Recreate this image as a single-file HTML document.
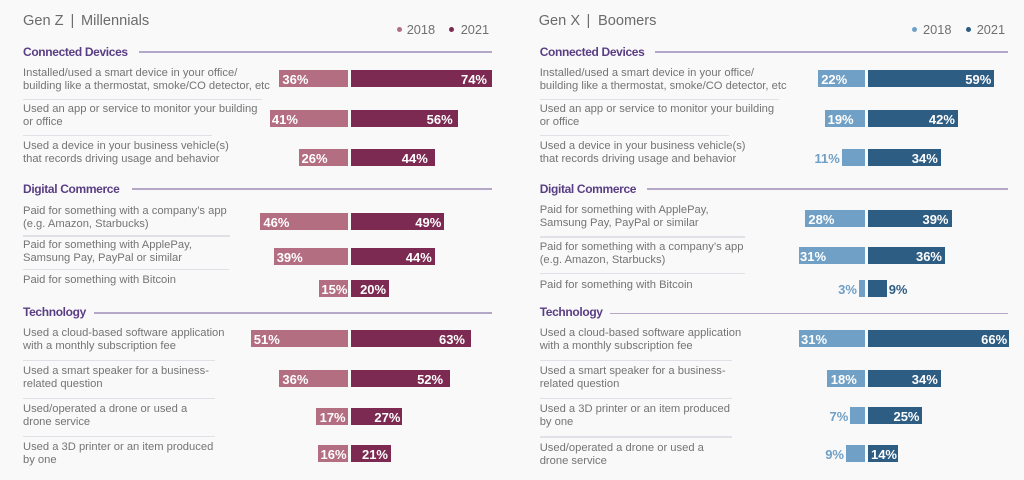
<!DOCTYPE html>
<html><head><meta charset="utf-8">
<style>
html,body{margin:0;padding:0}
body{width:1024px;height:480px;background:#f9f9fa;position:relative;overflow:hidden;font-family:"Liberation Sans",sans-serif}
.h{position:absolute;font:14.6px/15px "Liberation Sans",sans-serif;color:#6b6b6b;white-space:nowrap}
.lg{position:absolute;font:12.8px/13px "Liberation Sans",sans-serif;color:#707070;white-space:nowrap}
.dot{position:absolute;width:5px;height:5px;border-radius:50%}
.cat{position:absolute;font:bold 12px/12px "Liberation Sans",sans-serif;color:#5a3e84;letter-spacing:-0.35px;white-space:nowrap}
.cl{position:absolute;height:1.5px;background:#b4a7c8}
.sep{position:absolute;height:1.5px;background:#e0e0e7}
.t{position:absolute;font:11.2px/13px "Liberation Sans",sans-serif;color:#747474;white-space:nowrap}
.bar{position:absolute;height:17px;font:bold 13px/19px "Liberation Sans",sans-serif;color:#fff;white-space:nowrap;box-sizing:border-box}
.p18{background:#b46e82;padding-left:3px;text-align:left}
.p21{background:#7c2a52;padding-right:5px;text-align:right}
.b18{background:#70a0c6;padding-left:3px;text-align:left}
.b21{background:#2e5d83;padding-right:3px;text-align:right}
.ol{position:absolute;width:38px;height:17px;font:bold 13px/19px "Liberation Sans",sans-serif;color:#70a0c6;text-align:right;white-space:nowrap}
</style></head><body>

<!-- LEFT PANEL -->
<div class="h" style="left:23px;top:14px">Gen Z</div>
<div class="h" style="left:70.5px;top:14px">|</div>
<div class="h" style="left:81px;top:14px">Millennials</div>

<div class="dot" style="left:396.5px;top:26.5px;background:#b46e82"></div>
<div class="lg" style="left:406.7px;top:22.7px">2018</div>
<div class="dot" style="left:448.5px;top:26.5px;background:#7c2a52"></div>
<div class="lg" style="left:460.7px;top:22.7px">2021</div>

<div class="cat" style="left:23px;top:45.8px">Connected Devices</div>
<div class="cl" style="left:139px;width:353px;top:51px"></div>
<div class="cat" style="left:23px;top:183.2px">Digital Commerce</div>
<div class="cl" style="left:131.7px;width:360.3px;top:188.3px"></div>
<div class="cat" style="left:23px;top:306.2px">Technology</div>
<div class="cl" style="left:94.3px;width:397.7px;top:312px"></div>

<div class="t" style="left:23px;top:66.5px">Installed/used a smart device in your office/<br>building like a thermostat, smoke/CO detector, etc</div>
<div class="sep" style="left:23px;width:239px;top:98.5px"></div>
<div class="t" style="left:23px;top:102.5px">Used an app or service to monitor your building<br>or office</div>
<div class="sep" style="left:23px;width:189px;top:134.5px"></div>
<div class="t" style="left:23px;top:140px">Used a device in your business vehicle(s)<br>that records driving usage and behavior</div>

<div class="t" style="left:23px;top:204.8px">Paid for something with a company’s app<br>(e.g. Amazon, Starbucks)</div>
<div class="sep" style="left:23px;width:207px;top:235px"></div>
<div class="t" style="left:23px;top:238.5px">Paid for something with ApplePay,<br>Samsung Pay, PayPal or similar</div>
<div class="sep" style="left:23px;width:206px;top:268.5px"></div>
<div class="t" style="left:23px;top:273.5px">Paid for something with Bitcoin</div>

<div class="t" style="left:23px;top:326.5px">Used a cloud-based software application<br>with a monthly subscription fee</div>
<div class="sep" style="left:23px;width:192px;top:359.5px"></div>
<div class="t" style="left:23px;top:364.5px">Used a smart speaker for a business-<br>related question</div>
<div class="sep" style="left:23px;width:192px;top:397.5px"></div>
<div class="t" style="left:23px;top:402.5px">Used/operated a drone or used a<br>drone service</div>
<div class="sep" style="left:23px;width:192px;top:435.5px"></div>
<div class="t" style="left:23px;top:440.5px">Used a 3D printer or an item produced<br>by one</div>

<!-- left bars -->
<div class="bar p18" style="left:279.4px;width:68.6px;top:69.5px">36%</div>
<div class="bar p21" style="left:351px;width:141px;top:69.5px">74%</div>
<div class="bar p18" style="left:269.9px;width:78.1px;top:110px;padding-left:2px">41%</div>
<div class="bar p21" style="left:351px;width:106.7px;top:110px">56%</div>
<div class="bar p18" style="left:298.5px;width:49.5px;top:148.5px">26%</div>
<div class="bar p21" style="left:351px;width:83.8px;top:148.5px;padding-right:7px">44%</div>

<div class="bar p18" style="left:260.4px;width:87.6px;top:212.5px">46%</div>
<div class="bar p21" style="left:351px;width:93.3px;top:212.5px;padding-right:3px">49%</div>
<div class="bar p18" style="left:273.7px;width:74.3px;top:247.5px">39%</div>
<div class="bar p21" style="left:351px;width:83.8px;top:247.5px;padding-right:3px">44%</div>
<div class="bar p18" style="left:319.4px;width:28.6px;top:280px;padding-left:2px">15%</div>
<div class="bar p21" style="left:351px;width:38.1px;top:280px;padding-right:3px">20%</div>

<div class="bar p18" style="left:250.8px;width:97.2px;top:330px">51%</div>
<div class="bar p21" style="left:351px;width:120px;top:330px;padding-right:6px">63%</div>
<div class="bar p18" style="left:279.4px;width:68.6px;top:370px">36%</div>
<div class="bar p21" style="left:351px;width:99.1px;top:370px;padding-right:7px">52%</div>
<div class="bar p18" style="left:315.6px;width:32.4px;top:407.5px;padding-left:4px">17%</div>
<div class="bar p21" style="left:351px;width:51.4px;top:407.5px;padding-right:2px">27%</div>
<div class="bar p18" style="left:317.5px;width:30.5px;top:445px;padding-left:3px">16%</div>
<div class="bar p21" style="left:351px;width:40px;top:445px;padding-right:3px">21%</div>

<!-- RIGHT PANEL -->
<div class="h" style="left:538.7px;top:14px">Gen X</div>
<div class="h" style="left:586.5px;top:14px">|</div>
<div class="h" style="left:598px;top:14px">Boomers</div>

<div class="dot" style="left:911.8px;top:26.5px;background:#70a0c6"></div>
<div class="lg" style="left:923px;top:22.7px">2018</div>
<div class="dot" style="left:965.8px;top:26.5px;background:#2e5d83"></div>
<div class="lg" style="left:976.7px;top:22.7px">2021</div>

<div class="cat" style="left:539.7px;top:45.8px">Connected Devices</div>
<div class="cl" style="left:655.3px;width:353px;top:51px"></div>
<div class="cat" style="left:539.7px;top:183.2px">Digital Commerce</div>
<div class="cl" style="left:647px;width:361.3px;top:188.3px"></div>
<div class="cat" style="left:539.7px;top:306.2px">Technology</div>
<div class="cl" style="left:609.7px;width:398.6px;top:312.5px"></div>

<div class="t" style="left:539.7px;top:66.5px">Installed/used a smart device in your office/<br>building like a thermostat, smoke/CO detector, etc</div>
<div class="sep" style="left:539.7px;width:239px;top:98.8px"></div>
<div class="t" style="left:539.7px;top:102.5px">Used an app or service to monitor your building<br>or office</div>
<div class="sep" style="left:539.7px;width:189.3px;top:134.5px"></div>
<div class="t" style="left:539.7px;top:140.2px">Used a device in your business vehicle(s)<br>that records driving usage and behavior</div>

<div class="t" style="left:539.7px;top:204.2px">Paid for something with ApplePay,<br>Samsung Pay, PayPal or similar</div>
<div class="sep" style="left:539.7px;width:205.3px;top:236px"></div>
<div class="t" style="left:539.7px;top:240.8px">Paid for something with a company’s app<br>(e.g. Amazon, Starbucks)</div>
<div class="sep" style="left:539.7px;width:205.3px;top:272.8px"></div>
<div class="t" style="left:539.7px;top:278.5px">Paid for something with Bitcoin</div>

<div class="t" style="left:539.7px;top:326.5px">Used a cloud-based software application<br>with a monthly subscription fee</div>
<div class="sep" style="left:539.7px;width:192.3px;top:359.5px"></div>
<div class="t" style="left:539.7px;top:364.8px">Used a smart speaker for a business-<br>related question</div>
<div class="sep" style="left:539.7px;width:192.3px;top:397.5px"></div>
<div class="t" style="left:539.7px;top:403.2px">Used a 3D printer or an item produced<br>by one</div>
<div class="sep" style="left:539.7px;width:192.3px;top:436px"></div>
<div class="t" style="left:539.7px;top:441.8px">Used/operated a drone or used a<br>drone service</div>

<!-- right bars -->
<div class="bar b18" style="left:818.2px;width:47.1px;top:70px">22%</div>
<div class="bar b21" style="left:868px;width:126.3px;top:70px">59%</div>
<div class="bar b18" style="left:824.6px;width:40.7px;top:109.5px">19%</div>
<div class="bar b21" style="left:868px;width:89.9px;top:109.5px">42%</div>
<div class="ol" style="left:801.8px;top:149px">11%</div>
<div class="bar b18" style="left:841.8px;width:23.5px;top:149px"></div>
<div class="bar b21" style="left:868px;width:72.8px;top:149px">34%</div>

<div class="bar b18" style="left:805.4px;width:59.9px;top:210px">28%</div>
<div class="bar b21" style="left:868px;width:83.5px;top:210px">39%</div>
<div class="bar b18" style="left:799px;width:66.3px;top:247px;padding-left:1px">31%</div>
<div class="bar b21" style="left:868px;width:77px;top:247px">36%</div>
<div class="ol" style="left:818.9px;top:280px">3%</div>
<div class="bar b18" style="left:858.9px;width:6.4px;top:280px"></div>
<div class="bar b21" style="left:868px;width:19.3px;top:280px"></div>
<div class="ol" style="left:888.7px;top:280px;text-align:left;color:#2e5d83">9%</div>

<div class="bar b18" style="left:799px;width:66.3px;top:330px;padding-left:2px">31%</div>
<div class="bar b21" style="left:868px;width:141.2px;top:330px;padding-right:2px">66%</div>
<div class="bar b18" style="left:826.8px;width:38.5px;top:369.5px;padding-left:4px">18%</div>
<div class="bar b21" style="left:868px;width:72.8px;top:369.5px">34%</div>
<div class="ol" style="left:810.3px;top:407px">7%</div>
<div class="bar b18" style="left:850.3px;width:15px;top:407px"></div>
<div class="bar b21" style="left:868px;width:53.5px;top:407px;padding-right:2px">25%</div>
<div class="ol" style="left:806px;top:444.5px">9%</div>
<div class="bar b18" style="left:846px;width:19.3px;top:444.5px"></div>
<div class="bar b21" style="left:868px;width:30px;top:444.5px;padding-right:1px">14%</div>

</body></html>
